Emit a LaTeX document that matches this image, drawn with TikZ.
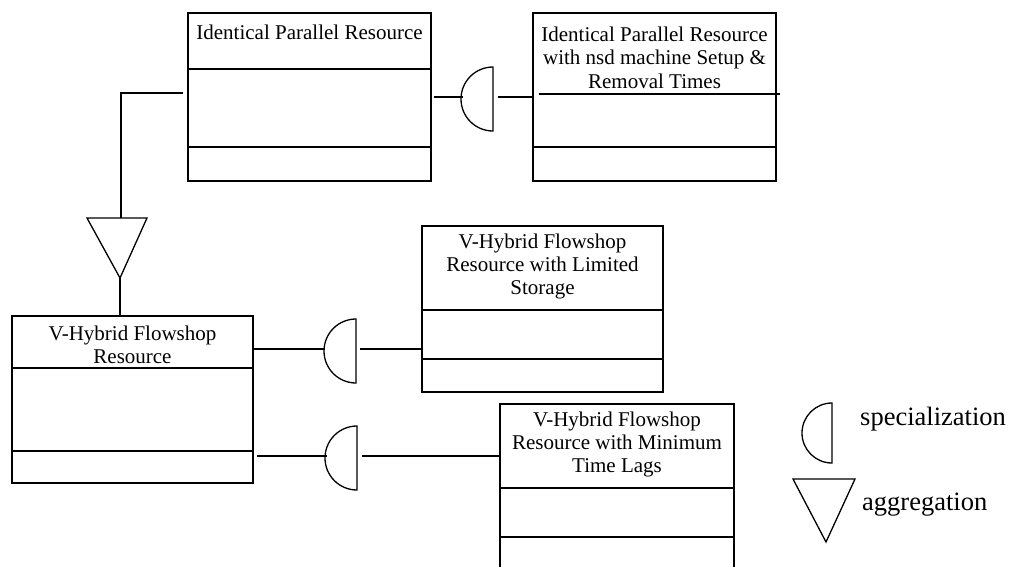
\documentclass[tikz,border=0pt]{standalone}
\usepackage{fontspec}
\setmainfont{Liberation Serif}
\begin{document}
\begin{tikzpicture}[x=1pt,y=-1pt,
  box/.style={draw,line width=1.5pt,rectangle,inner sep=0pt},
  title/.style={align=center,inner sep=0pt,font=\fontsize{21}{23.4}\selectfont},
  conn/.style={line width=1.3pt},
  sym/.style={line width=1.3pt},
  legend/.style={anchor=west,inner sep=0pt,font=\fontsize{26.5}{30}\selectfont}]
\clip (0,0) rectangle (1010,566);
\fill[white] (0,0) rectangle (1010,566);
% boxes
\node[box,minimum width=243pt,minimum height=168pt] (b1) at (309.5,97) {};
\node[box,minimum width=243pt,minimum height=168pt] (b2) at (654.5,97) {};
\node[box,minimum width=241pt,minimum height=167pt] (b3) at (132.5,399.5) {};
\node[box,minimum width=241pt,minimum height=166pt] (b4) at (542.5,309) {};
\node[box,minimum width=234pt,minimum height=186pt] (b5) at (617,497) {};
% dividers
\draw[line width=1.5pt] (b1.west |- 0,69) -- (b1.east |- 0,69);
\draw[line width=1.5pt] (b1.west |- 0,147) -- (b1.east |- 0,147);
\draw[line width=1.5pt] (539,94) -- (780,94);
\draw[line width=1.5pt] (b2.west |- 0,147) -- (b2.east |- 0,147);
\draw[line width=1.5pt] (b3.west |- 0,368) -- (b3.east |- 0,368);
\draw[line width=1.5pt] (b3.west |- 0,451) -- (b3.east |- 0,451);
\draw[line width=1.5pt] (b4.west |- 0,310) -- (b4.east |- 0,310);
\draw[line width=1.5pt] (b4.west |- 0,359) -- (b4.east |- 0,359);
\draw[line width=1.5pt] (b5.west |- 0,488) -- (b5.east |- 0,488);
\draw[line width=1.5pt] (b5.west |- 0,537) -- (b5.east |- 0,537);
% titles
\node[title] (t1) at (309.5,32) {Identical Parallel Resource};
\node[title] (t2) at (654.5,57.5) {Identical Parallel Resource\\with nsd machine Setup \&\\Removal Times};
\node[title] (t3) at (132.5,345) {V-Hybrid Flowshop\\Resource};
\node[title] (t4) at (542.5,266.5) {V-Hybrid Flowshop\\Resource with Limited\\Storage};
\node[title] (t5) at (617,444.5) {V-Hybrid Flowshop\\Resource with Minimum\\Time Lags};
% aggregation connector
\coordinate (a0) at (183,93);
\coordinate (a1) at (121,93);
\coordinate (atop) at (120,218);
\coordinate (atip) at (120,278);
\draw[conn] (a0) -- (a1) -- (a1 |- atop);
\draw[sym] (87,218) -- (147,218) -- (atip) -- cycle;
\draw[conn] (atip) -- (b3.north -| atip);
% specialization connectors
\coordinate (s1) at (493,99);
\draw[conn] (434,97) -- (463,97);
\draw[sym] (s1) ++(0,-32) arc[start angle=270,end angle=90,radius=32] -- cycle;
\draw[conn] (498,97) -- (b2.west |- 0,97);
\coordinate (s2) at (356,351);
\draw[conn] (b3.east |- 0,349) -- (325,349);
\draw[sym] (s2) ++(0,-32) arc[start angle=270,end angle=90,radius=32] -- cycle;
\draw[conn] (360,349) -- (b4.west |- 0,349);
\coordinate (s3) at (357,458);
\draw[conn] (257,456) -- (327,456);
\draw[sym] (s3) ++(0,-32) arc[start angle=270,end angle=90,radius=32] -- cycle;
\draw[conn] (362,456) -- (b5.west |- 0,456);
% legend
\coordinate (ls) at (832,433);
\draw[sym] (ls) ++(0,-30) arc[start angle=270,end angle=90,radius=30] -- cycle;
\node[legend] (lspec) at (860,419) {specialization};
\draw[sym] (793,479) -- (855,479) -- (826,542) -- cycle;
\node[legend] (lagg) at (862,505) {aggregation};
\end{tikzpicture}
\end{document}
